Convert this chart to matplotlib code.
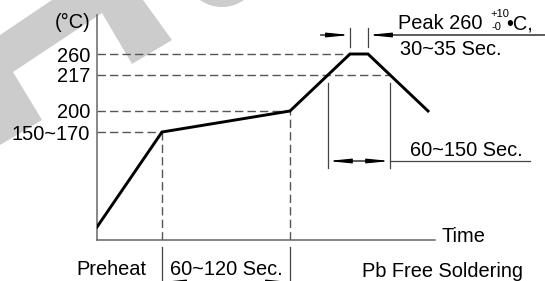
import numpy as np
import matplotlib
matplotlib.use("Agg")
import matplotlib.pyplot as plt
from matplotlib.patches import Polygon, FancyArrowPatch

plt.rcParams['font.family'] = ['Liberation Sans', 'DejaVu Sans']

# ---- data (schematic time units / schematic temperature levels) ----
profile_time = [0, 65, 193, 253, 271, 331]
profile_level = [13, 108, 129, 186, 186, 129]
temp_labels = ['150~170', '200', '217', '260']
temp_levels = [108, 129, 165, 186]
time_max = 338
level_max = 225

W, H = 545, 281
fig = plt.figure(figsize=(W / 100, H / 100), dpi=100)

# ---- faint watermark in the background ----
def px(pts):
    return [(x / W, 1 - y / H) for x, y in pts]

wm_color = '#cccccc'
fig.patches.append(Polygon(px([(0, 35), (52, 0), (143, 0), (172, 40), (132, 64),
                               (102, 13), (13, 72), (42, 120), (0, 145)]),
                           closed=True, facecolor=wm_color, edgecolor='none',
                           transform=fig.transFigure, zorder=-5))
fig.patches.append(Polygon(px([(222 + 38 * np.cos(a), -31 + 38 * np.sin(a))
                               for a in np.linspace(0, 2 * np.pi, 80)]),
                           closed=True, facecolor=wm_color, edgecolor='none',
                           transform=fig.transFigure, zorder=-5))

ax = fig.add_axes([97 / W, 41 / H, time_max / W, level_max / H])
ax.set_zorder(2)
ax.patch.set_visible(False)
ax.set_xlim(0, time_max)
ax.set_ylim(0, level_max)
for s in ['top', 'right']:
    ax.spines[s].set_visible(False)
for s in ['left', 'bottom']:
    ax.spines[s].set_color('#666666')
    ax.spines[s].set_linewidth(1.1)
ax.set_xticks([])
ax.set_yticks(temp_levels)
ax.set_yticklabels(temp_labels)
ax.tick_params(axis='y', length=0, pad=5, labelsize=14.4)

FS = 14.4
dash_kw = dict(color='#555555', lw=1.0, dashes=(6, 3))
thin_kw = dict(color='#444444', lw=0.9)

t1, t2, t3, t4, t5, t6 = profile_time
lv = dict(zip(temp_labels, temp_levels))

# crossing points of the 217 level
t_up217 = np.interp(lv['217'], [profile_level[2], profile_level[3]], [t3, t4])
t_dn217 = np.interp(-lv['217'], [-profile_level[4], -profile_level[5]], [t5, t6])

# dashed reference lines
ax.plot([0, t2], [lv['150~170']] * 2, **dash_kw)
ax.plot([0, t3], [lv['200']] * 2, **dash_kw)
ax.plot([0, t_dn217], [lv['217']] * 2, **dash_kw)
ax.plot([0, t4], [lv['260']] * 2, **dash_kw)
ax.plot([t2, t2], [0, lv['150~170']], **dash_kw)
ax.plot([t3, t3], [0, lv['200']], **dash_kw)

# profile
ax.plot(profile_time, profile_level, color='black', lw=2.1, solid_joinstyle='miter', zorder=5)

arr = '<|-|>,head_length=1.3,head_width=0.13'
one = '-|>,head_length=1.3,head_width=0.13'

# ---- 60~150 Sec. (time above 217) ----
y_a = 79
ax.plot([t_up217, t_up217], [72, 157], **thin_kw)
ax.plot([t_dn217, t_dn217], [72, 157], **thin_kw)
ax.plot([t_dn217, 433], [y_a, y_a], clip_on=False, **thin_kw)
ax.add_patch(FancyArrowPatch((t_up217, y_a), (t_dn217, y_a), arrowstyle=arr,
                             mutation_scale=10, color='black', lw=0.9,
                             shrinkA=0, shrinkB=0))
ax.text(313, 84, '60~150 Sec.', fontsize=FS, ha='left', va='baseline')

# ---- Peak annotation ----
y_p = 205
ax.plot([t4, t4], [193, 212], clip_on=False, **thin_kw)
ax.plot([t5, t5], [193, 212], clip_on=False, **thin_kw)
ax.add_patch(FancyArrowPatch((223.5, y_p), (t4, y_p), arrowstyle=one,
                             mutation_scale=10, color='black', lw=0.9,
                             shrinkA=0, shrinkB=0, clip_on=False))
ax.add_patch(FancyArrowPatch((448, y_p), (t5, y_p), arrowstyle=one,
                             mutation_scale=10, color='black', lw=0.9,
                             shrinkA=0, shrinkB=0, clip_on=False))
ax.text(301, 211, 'Peak 260', fontsize=FS, ha='left', va='baseline', clip_on=False)
ax.text(393, 223, '+10', fontsize=8, ha='left', va='baseline', clip_on=False)
ax.text(394, 210, '-0', fontsize=8, ha='left', va='baseline', clip_on=False)
ax.text(409, 211, '•C,', fontsize=FS, ha='left', va='baseline', clip_on=False)
ax.text(303, 185, '30~35 Sec.', fontsize=FS, ha='left', va='baseline', clip_on=False)

# ---- y unit and time label ----
ax.text(-7, 218, '(°C)', fontsize=FS, ha='right', va='center', clip_on=False)
ax.text(344, -2, 'Time', fontsize=FS, ha='left', va='baseline', clip_on=False)

# ---- preheat ----
ax.plot([t2, t2], [-7, -45], clip_on=False, **thin_kw)
ax.plot([t3, t3], [-7, -45], clip_on=False, **thin_kw)
ax.add_patch(FancyArrowPatch((t2, -42), (t3, -42), arrowstyle=arr,
                             mutation_scale=10, color='black', lw=0.9,
                             shrinkA=0, shrinkB=0, clip_on=False))
ax.text(49, -35, 'Preheat', fontsize=FS, ha='right', va='baseline', clip_on=False)
ax.text(73, -35, '60~120 Sec.', fontsize=FS, ha='left', va='baseline', clip_on=False)
ax.text(264.5, -37, 'Pb Free Soldering', fontsize=FS, ha='left', va='baseline', clip_on=False)

fig.savefig('out.png', dpi=100)
